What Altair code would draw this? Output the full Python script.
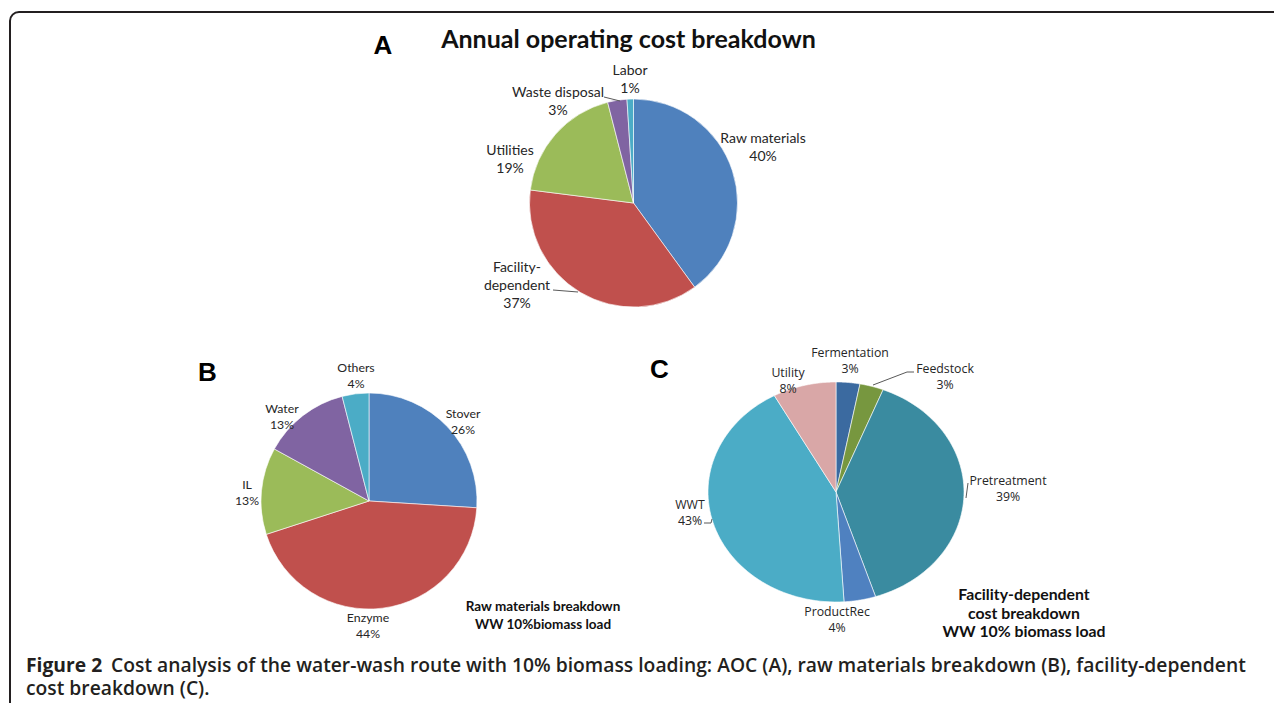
import altair as alt
import pandas as pd

# ---------------- data ----------------
a_cats = ["Raw materials", "Facility-dependent", "Utilities", "Waste disposal", "Labor"]
a_vals = [40, 37, 19, 3, 1]

b_cats = ["Stover", "Enzyme", "IL", "Water", "Others"]
b_vals = [26, 44, 13, 13, 4]

c_cats = ["Fermentation", "Feedstock", "Pretreatment", "ProductRec", "WWT", "Utility"]
c_vals = [3, 3, 39, 4, 43, 8]

title_a = "Annual operating cost breakdown"
footer_b = ["Raw materials breakdown", "WW 10%biomass load"]
footer_c = ["Facility-dependent", "cost breakdown", "WW 10% biomass load"]
caption_bold = "Figure 2"
caption_rest = ("Cost analysis of the water-wash route with 10% biomass loading: AOC (A), "
                "raw materials breakdown (B), facility-dependent")
caption_line2 = "cost breakdown (C)."

# ---------------- styles / layout ----------------
a_colors = ["#4F81BD", "#C0504D", "#9BBB59", "#8064A2", "#4BACC6"]
b_colors = ["#4F81BD", "#C0504D", "#9BBB59", "#8064A2", "#4BACC6"]
c_colors = ["#3B6AA0", "#77973F", "#3A8BA0", "#4F81C0", "#4BACC6", "#D9A7A7"]

W, H = 1266, 695
OFF = 8


def p(v):
    return v - OFF


LABEL_FONT = "Lato"
C_FONT = "Open Sans"
CAP_FONT = "Open Sans"
TXT = "#262626"

# label anchors (first line centre, page coords)
a_lab_pos = [(763, 139), (517, 268), (510, 151), (558, 93), (630, 71)]
a_lab_step = 17.8
b_lab_pos = [(463, 414), (368, 618), (247, 485), (282, 409), (356, 368)]
b_lab_step = 15.6
c_lab_pos = [(850, 353), (945, 369), (1008, 481), (837, 612), (690, 505), (788, 373)]
c_lab_step = 15.6

leaders = [
    (604, 97, 620, 101),
    (553, 290, 578, 292),
    (873, 385, 907, 372),
    (907, 372, 914, 372),
    (968, 483, 966, 498),
    (704, 523, 711, 523),
    (711, 523, 712, 519),
]


def pie(cats, vals, colors, cx, cy, r):
    df = pd.DataFrame({"cat": cats, "val": vals, "ord": list(range(len(cats)))})
    return alt.Chart(df).mark_arc(outerRadius=r, stroke="#ffffff", strokeWidth=0.6).encode(
        theta=alt.Theta("val:Q", stack=True),
        color=alt.Color("cat:N", scale=alt.Scale(domain=cats, range=colors), legend=None),
        order=alt.Order("ord:Q"),
        x=alt.value(p(cx)),
        y=alt.value(p(cy)),
    )


def ellipse_pie(cats, vals, colors, cx, cy, rx, ry, n=72):
    df = pd.DataFrame({"cat": cats, "val": vals, "ord": list(range(len(cats)))})
    return (
        alt.Chart(df)
        .transform_window(cum="sum(val)", sort=[alt.SortField("ord")], frame=[None, 0])
        .transform_joinaggregate(total="sum(val)")
        .transform_calculate(
            a0="2*PI*(datum.cum - datum.val)/datum.total",
            a1="2*PI*datum.cum/datum.total",
            pts=f"sequence(0, {n + 3})",
        )
        .transform_flatten(["pts"], as_=["i"])
        .transform_calculate(
            f=f"clamp((datum.i - 1)/{n}, 0, 1)",
            ang="datum.a0 + (datum.a1 - datum.a0)*datum.f",
            edge=f"(datum.i == 0 || datum.i >= {n + 2}) ? 0 : 1",
            ux="datum.edge*sin(datum.ang)",
            uy="datum.edge*cos(datum.ang)",
        )
        .mark_line(stroke="#ffffff", strokeWidth=0.6, interpolate="linear-closed")
        .encode(
            x=alt.X("ux:Q", scale=alt.Scale(domain=[-1, 1], range=[p(cx - rx), p(cx + rx)], nice=False, zero=False), axis=None),
            y=alt.Y("uy:Q", scale=alt.Scale(domain=[-1, 1], range=[p(cy + ry), p(cy - ry)], nice=False, zero=False), axis=None),
            detail="cat:N",
            order=alt.Order("i:Q"),
            fill=alt.Fill("cat:N", scale=alt.Scale(domain=cats, range=colors), legend=None),
        )
    )


def text_layer(rows, font, size, weight="normal", color=TXT, align="center", baseline="middle"):
    df = pd.DataFrame(rows, columns=["t", "x", "y"])
    return alt.Chart(df).mark_text(
        font=font, fontSize=size, fontWeight=weight, color=color, align=align, baseline=baseline
    ).encode(
        x=alt.X("x:Q", scale=None, axis=None),
        y=alt.Y("y:Q", scale=None, axis=None),
        text="t:N",
    )


def label_rows(cats, vals, pos, step, wrap_hyphen=False):
    rows = []
    for c, v, (x, y) in zip(cats, vals, pos):
        lines = c.replace("-", "-\n").split("\n") if wrap_hyphen else [c]
        lines = lines + [f"{v}%"]
        for k, ln in enumerate(lines):
            rows.append((ln, p(x), p(y + k * step)))
    return rows


# ---------------- layers ----------------
border = alt.Chart(pd.DataFrame({"k": [0]})).mark_rect(
    filled=False, stroke="#231f20", strokeWidth=2, cornerRadius=9
).encode(x=alt.value(p(10)), x2=alt.value(W + 40), y=alt.value(p(12)), y2=alt.value(H + 40))

pieA = pie(a_cats, a_vals, a_colors, 633.5, 203, 104)
pieB = pie(b_cats, b_vals, b_colors, 369, 501, 108)
pieC = ellipse_pie(c_cats, c_vals, c_colors, 836, 492, 128, 110)

lead_df = pd.DataFrame(
    [(p(a), p(b), p(c), p(d)) for a, b, c, d in leaders], columns=["x", "y", "x2", "y2"]
)
lead = alt.Chart(lead_df).mark_rule(color="#595959", strokeWidth=1).encode(
    x=alt.X("x:Q", scale=None, axis=None), y=alt.Y("y:Q", scale=None, axis=None),
    x2="x2:Q", y2="y2:Q",
)

labA = text_layer(label_rows(a_cats, a_vals, a_lab_pos, a_lab_step, wrap_hyphen=True), LABEL_FONT, 14)
labB = text_layer(label_rows(b_cats, b_vals, b_lab_pos, b_lab_step), LABEL_FONT, 12.3)
labC = text_layer(label_rows(c_cats, c_vals, c_lab_pos, c_lab_step), C_FONT, 12.3)

footB = text_layer([(t, p(543), p(607 + 18 * k)) for k, t in enumerate(footer_b)], LABEL_FONT, 13.5, "bold", "#111")
footC = text_layer([(t, p(1024), p(595 + 18.5 * k)) for k, t in enumerate(footer_c)], LABEL_FONT, 15.8, "bold", "#111")

title = text_layer([(title_a, p(628.5), p(48))], LABEL_FONT, 25, "bold", "#111", baseline="alphabetic")
letters = text_layer(
    [("A", p(383), p(54)), ("B", p(207.5), p(381)), ("C", p(659.5), p(378))],
    "Liberation Sans", 26, "bold", "#000", baseline="alphabetic",
)

cap1 = text_layer([(caption_bold, p(26), p(672))], CAP_FONT, 19.3, "bold", "#231f20", align="left", baseline="alphabetic")
cap2 = text_layer([(caption_rest, p(111), p(672))], CAP_FONT, 19.3, 600, "#231f20", align="left", baseline="alphabetic")
cap3 = text_layer([(caption_line2, p(26), p(695))], CAP_FONT, 19.3, 600, "#231f20", align="left", baseline="alphabetic")

chart = (
    alt.layer(border, pieA, pieB, pieC, lead, labA, labB, labC, footB, footC, title, letters, cap1, cap2, cap3)
    .resolve_scale(x="independent", y="independent", theta="independent", color="independent", fill="independent")
    .properties(width=W, height=H, padding=0, autosize=alt.AutoSizeParams(type="none"), background="#ffffff")
    .configure_view(stroke=None)
)

chart.save("out.html", embed_options={"renderer": "svg", "actions": False})
